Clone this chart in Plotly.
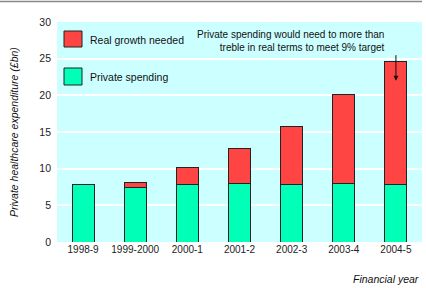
import plotly.graph_objects as go

years = ["1998-9", "1999-2000", "2000-1", "2001-2", "2002-3", "2003-4", "2004-5"]
private_spending = [7.8, 7.4, 7.8, 8.0, 7.8, 8.0, 7.8]
real_growth = [0.0, 0.7, 2.4, 4.7, 7.9, 12.1, 16.8]
y_ticks = [0, 5, 10, 15, 20, 25, 30]

FONT = "Liberation Sans, Arial, sans-serif"
RED = "#ff4444"
GREEN = "#00ffb7"
BG = "#ccffff"

fig = go.Figure()
fig.add_bar(x=years, y=private_spending, name="Private spending",
            marker=dict(color=GREEN, line=dict(color="#222", width=1)))
fig.add_bar(x=years, y=real_growth, name="Real growth needed",
            marker=dict(color=RED, line=dict(color="#222", width=1)))

W, H = 426, 288
L, R, T, B = 57, 4, 22, 46
pw, ph = W - L - R, H - T - B

def px(x):
    return (x - L) / pw

def py(y):
    return (H - B - y) / ph

shapes = [
    dict(type="rect", xref="paper", yref="paper", x0=px(64), x1=px(82), y0=py(47), y1=py(31),
         fillcolor=RED, line=dict(color="#222", width=1)),
    dict(type="rect", xref="paper", yref="paper", x0=px(64), x1=px(82), y0=py(85), y1=py(68),
         fillcolor=GREEN, line=dict(color="#222", width=1)),
    dict(type="line", xref="paper", yref="paper", x0=px(0), x1=px(422), y0=py(1.5), y1=py(1.5),
         line=dict(color="#888", width=1.5)),
]

annotations = [
    dict(xref="paper", yref="paper", x=px(88), y=py(40), text="Real growth needed",
         showarrow=False, xanchor="left", yanchor="middle", font=dict(size=10.5, color="#111")),
    dict(xref="paper", yref="paper", x=px(88), y=py(77), text="Private spending",
         showarrow=False, xanchor="left", yanchor="middle", font=dict(size=10.5, color="#111")),
    dict(xref="paper", yref="paper", x=px(387), y=py(27), align="right",
         text="Private spending would need to more than<br>treble in real terms to meet 9% target",
         showarrow=False, xanchor="right", yanchor="top", font=dict(size=10, color="#111")),
    dict(x=years[6], y=22.0, xref="x", yref="y", text="", showarrow=True, ax=0, ay=-27,
         arrowhead=2, arrowsize=1, arrowwidth=1, arrowcolor="#111"),
    dict(xref="paper", yref="paper", x=px(14), y=0.5, text="Private healthcare expenditure (£bn)",
         textangle=-90, showarrow=False, xanchor="center", yanchor="middle",
         font=dict(size=10.5, color="#111", style="italic")),
    dict(xref="paper", yref="paper", x=px(421), y=py(279), text="Financial year",
         showarrow=False, xanchor="right", yanchor="middle",
         font=dict(size=10.5, color="#111", style="italic")),
]

fig.update_layout(
    width=W, height=H,
    margin=dict(l=L, r=R, t=T, b=B, pad=0),
    barmode="stack", bargap=0.58,
    plot_bgcolor=BG, paper_bgcolor="white",
    showlegend=False,
    font=dict(family=FONT, size=10, color="#222"),
    shapes=shapes, annotations=annotations,
)
fig.update_xaxes(type="category", showgrid=False, ticks="", showline=False,
                 tickfont=dict(size=10, color="#222"), range=[-0.5, 6.5])
fig.update_yaxes(range=[0, 30], tickvals=y_ticks, showgrid=True, gridcolor="white", gridwidth=1.5,
                 zeroline=False, showline=False, ticks="", ticklabelstandoff=5,
                 tickfont=dict(size=10.5, color="#222"))

fig.write_html("out.html", config={"displayModeBar": False},
               post_script="document.body.style.margin='0';")
